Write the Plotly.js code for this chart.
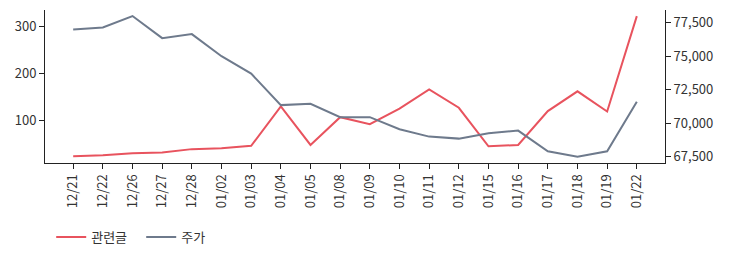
<!DOCTYPE html>
<html>
<head>
<meta charset="utf-8">
<script src="https://cdn.plot.ly/plotly-3.0.1.min.js"></script>
<style>html,body{margin:0;padding:0;background:#fff;}#chart{width:730px;height:259px;}</style>
</head>
<body>
<div id="chart"></div>
<script>
const dates = ["12/21","12/22","12/26","12/27","12/28","01/02","01/03","01/04","01/05","01/08","01/09","01/10","01/11","01/12","01/15","01/16","01/17","01/18","01/19","01/22"];
const posts = [25, 27, 31, 33, 40, 42, 47, 131, 49, 108, 93, 126, 167, 128, 46, 49, 121, 163, 120, 323];
const price = [77000, 77150, 78000, 76350, 76650, 75000, 73700, 71350, 71450, 70450, 70450, 69550, 69000, 68850, 69250, 69450, 67900, 67500, 67900, 71600];
const postsName = "관련글";
const priceName = "주가";

const font = "'Noto Sans CJK KR', 'Noto Sans', sans-serif";
const axisColor = "#222";
const data = [
  {x: dates, y: posts, name: postsName, type: "scatter", mode: "lines",
   line: {color: "#e8535e", width: 2}, yaxis: "y"},
  {x: dates, y: price, name: priceName, type: "scatter", mode: "lines",
   line: {color: "#6e7a8c", width: 2}, yaxis: "y2"}
];
const layout = {
  width: 730, height: 259,
  margin: {l: 45, r: 65, t: 10, b: 96, autoexpand: false},
  paper_bgcolor: "#fff", plot_bgcolor: "#fff",
  font: {family: font, size: 13, color: "#333"},
  showlegend: true,
  legend: {orientation: "h", x: 0.01, xanchor: "left", yref: "container", y: 0.085, yanchor: "middle",
           font: {family: font, size: 13, color: "#333"}, itemwidth: 30, entrywidth: 45},
  xaxis: {type: "category", range: [-0.95, 19.95], tickangle: -90, automargin: false,
          showline: true, linecolor: axisColor, linewidth: 1, mirror: false,
          ticks: "outside", ticklen: 5, tickcolor: axisColor, showgrid: false, zeroline: false,
          tickfont: {size: 13}},
  yaxis: {range: [10.5, 336], tickvals: [100, 200, 300], showline: true, linecolor: axisColor, automargin: false,
          ticks: "outside", ticklen: 5, tickcolor: axisColor, showgrid: false, zeroline: false,
          tickfont: {size: 13}},
  yaxis2: {overlaying: "y", side: "right", range: [67030, 78450], automargin: false,
           tickvals: [67500, 70000, 72500, 75000, 77500], tickformat: ",d",
           showline: true, linecolor: axisColor, ticks: "outside", ticklen: 5, tickcolor: axisColor,
           showgrid: false, zeroline: false, tickfont: {size: 13}}
};
Plotly.newPlot("chart", data, layout, {displayModeBar: false, staticPlot: true});
</script>
</body>
</html>
